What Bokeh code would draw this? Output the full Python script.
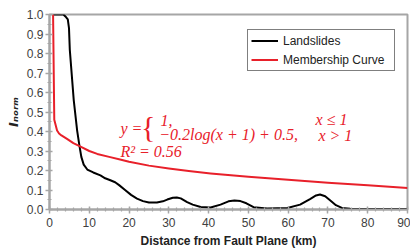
import numpy as np
from bokeh.plotting import figure
from bokeh.models import Range1d, FixedTicker, PrintfTickFormatter, Label, Legend, LegendItem
from bokeh.embed import file_html
from bokeh.resources import INLINE

# Landslides (normalised density)
land_x = [1, 2, 3, 3.5, 4.0, 4.6, 4.9, 5.1, 6.1, 6.95, 7.5, 8.0, 8.6, 9.5, 11, 12.8, 14, 15.3,
          16.5, 17.5, 19, 20.5, 22, 23.5, 25, 27, 28.5, 29.6, 31, 32, 33, 34.6, 36, 38, 40.5,
          43, 45, 46.5, 48, 49.5, 51.3, 54.7, 59.8, 63, 65.6, 67, 68, 69.3, 70.6, 72, 73.5,
          75.6, 80, 90]
land_y = [1.0, 1.0, 1.0, 1.0, 0.99, 0.975, 0.93, 0.82, 0.56, 0.405, 0.33, 0.27, 0.23, 0.205,
          0.19, 0.175, 0.16, 0.15, 0.14, 0.125, 0.1, 0.075, 0.056, 0.043, 0.036, 0.036, 0.042,
          0.051, 0.06, 0.062, 0.057, 0.038, 0.025, 0.013, 0.01, 0.025, 0.042, 0.046, 0.043,
          0.032, 0.012, 0.005, 0.008, 0.025, 0.055, 0.072, 0.077, 0.068, 0.046, 0.022, 0.008,
          0.004, 0.003, 0.003]

# Membership curve
mem_x = [0.9, 1.2, 1.9, 2.4, 3, 4.4, 6, 7.8, 10, 12, 15, 18, 20, 25, 30, 35, 40.5, 50, 60,
         70, 80, 90]
mem_y = [1.0, 0.46, 0.405, 0.39, 0.38, 0.362, 0.34, 0.322, 0.30, 0.285, 0.27, 0.255, 0.245,
         0.225, 0.21, 0.197, 0.185, 0.168, 0.152, 0.137, 0.124, 0.11]

x_ticks = [0, 10, 20, 30, 40, 50, 60, 70, 80, 90]
x_minor = [v for v in range(0, 91, 2)]
y_ticks = [0.0, 0.1, 0.2, 0.3, 0.4, 0.5, 0.6, 0.7, 0.8, 0.9, 1.0]
y_minor = [round(i * 0.05, 2) for i in range(21)]

RED = "#e8202a"
GRAY = "#a6a6a6"

p = figure(frame_width=358, frame_height=195, output_backend="svg", toolbar_location=None,
           x_range=Range1d(0, 90), y_range=Range1d(0, 1.0),
           min_border_left=49, min_border_top=14, min_border_right=3, min_border_bottom=10)
p.background_fill_color = "white"
p.border_fill_color = "white"
p.outline_line_color = GRAY
p.outline_line_width = 2
p.xgrid.visible = False
p.ygrid.visible = False

for ax in (p.xaxis[0], p.yaxis[0]):
    ax.axis_line_color = GRAY
    ax.axis_line_width = 2
    ax.major_tick_line_color = GRAY
    ax.minor_tick_line_color = GRAY
    ax.major_tick_line_width = 1.5
    ax.minor_tick_line_width = 1.2
    ax.major_tick_in = 3
    ax.major_tick_out = 4
    ax.minor_tick_in = 2
    ax.minor_tick_out = 2
    ax.major_label_text_font = "Liberation Sans"
    ax.major_label_text_font_size = "12px"
    ax.major_label_text_color = "#404040"

p.xaxis.ticker = FixedTicker(ticks=x_ticks, minor_ticks=x_minor)
p.yaxis.ticker = FixedTicker(ticks=y_ticks, minor_ticks=y_minor)
p.yaxis.formatter = PrintfTickFormatter(format="%.1f")
p.xaxis.major_label_standoff = 4
p.yaxis.major_label_standoff = 2

p.xaxis.axis_label = "Distance from Fault Plane (km)"
p.xaxis.axis_label_text_font = "Liberation Sans"
p.xaxis.axis_label_text_font_style = "bold"
p.xaxis.axis_label_text_font_size = "12px"
p.xaxis.axis_label_text_color = "#222222"
p.xaxis.axis_label_standoff = 4

p.yaxis.axis_label = "Iₙₒᵣₘ"
p.yaxis.axis_label_text_font = "DejaVu Sans"
p.yaxis.axis_label_text_font_style = "bold italic"
p.yaxis.axis_label_text_font_size = "13px"
p.yaxis.axis_label_text_color = "#222222"
p.yaxis.axis_label_standoff = 3

r_land = p.line(land_x, land_y, line_color="black", line_width=2, line_join="round")
r_mem = p.line(mem_x, mem_y, line_color=RED, line_width=2, line_join="round")

legend = Legend(items=[LegendItem(label="Landslides", renderers=[r_land]),
                       LegendItem(label="Membership Curve", renderers=[r_mem])],
                location=(198, 138), orientation="vertical")
legend.label_text_font = "Liberation Sans"
legend.label_text_font_size = "12px"
legend.label_text_color = "#222222"
legend.border_line_color = "black"
legend.border_line_width = 1.5
legend.padding = 3
legend.spacing = 4
legend.margin = 0
legend.label_height = 15
legend.glyph_height = 15
legend.glyph_width = 27
legend.label_standoff = 5
legend.label_width = 108
legend.background_fill_alpha = 1.0
p.add_layout(legend, "center")

# equation annotation
def eq(x, y, t, size="16px", style="italic"):
    p.add_layout(Label(x=x, y=y, text=t, text_font="Liberation Serif", text_font_style=style,
                       text_font_size=size, text_color=RED, text_baseline="middle",
                       text_align="left"))

eq(17.85, 0.415, "y =")
eq(23.0, 0.428, "{", size="30px", style="normal")
eq(27.9, 0.456, "1,")
eq(27.6, 0.385, "−0.2log(x + 1) + 0.5,")
eq(66.9, 0.46, "x ≤ 1")
eq(67.6, 0.38, "x > 1")
eq(17.85, 0.297, "R² = 0.56")

open("out.html", "w").write(file_html(p, INLINE))
